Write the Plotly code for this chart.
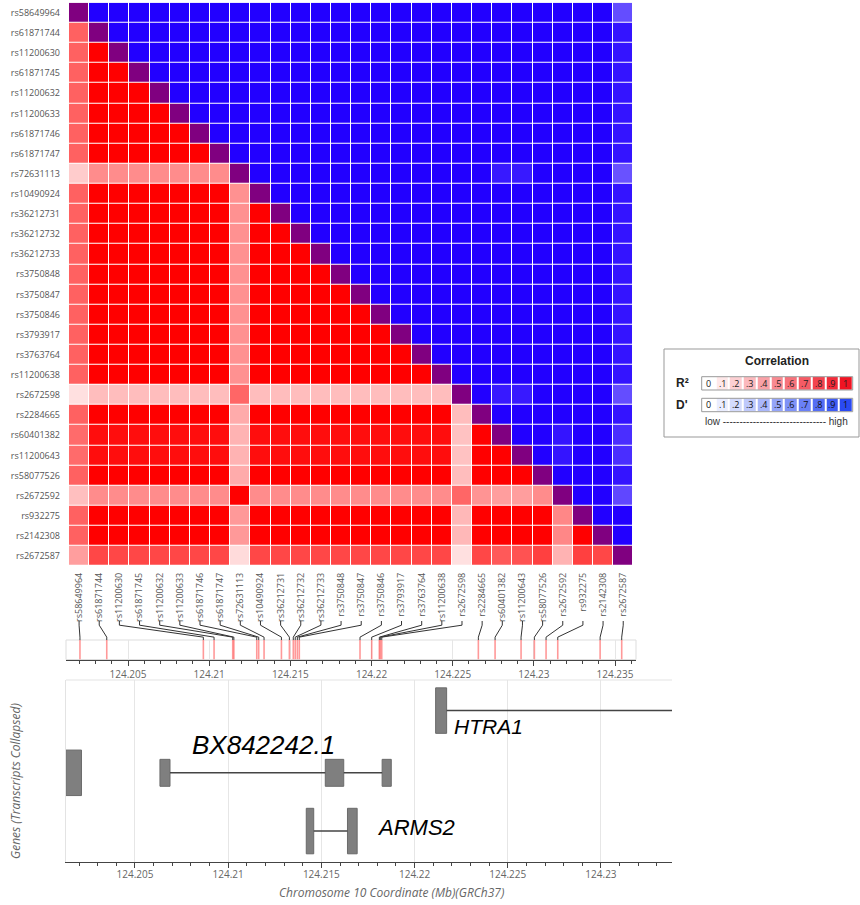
import numpy as np
import plotly.graph_objects as go

# ---------------------------------------------------------------- data
SNPS = [
    "rs58649964", "rs61871744", "rs11200630", "rs61871745", "rs11200632",
    "rs11200633", "rs61871746", "rs61871747", "rs72631113", "rs10490924",
    "rs36212731", "rs36212732", "rs36212733", "rs3750848", "rs3750847",
    "rs3750846", "rs3793917", "rs3763764", "rs11200638", "rs2672598",
    "rs2284665", "rs60401382", "rs11200643", "rs58077526", "rs2672592",
    "rs932275", "rs2142308", "rs2672587",
]

# chromosome 10 position of each SNP (Mb, GRCh37)
POS_MB = [
    124.20204, 124.20369, 124.20964, 124.21030, 124.21145,
    124.21152, 124.21293, 124.21305, 124.21338, 124.21445,
    124.21494, 124.21518, 124.21530, 124.21543, 124.21555,
    124.21929, 124.22001, 124.22048, 124.22054, 124.22063,
    124.22658, 124.22761, 124.22921, 124.23003, 124.23075,
    124.23147, 124.23408, 124.23541,
]

# R2, lower triangle: row i holds the values against SNPs 0..i-1
R2_LOWER = [
    [],
    [.62],
    [.62, 1],
    [.62, 1, 1],
    [.62, 1, 1, 1],
    [.62, 1, 1, 1, 1],
    [.62, 1, 1, 1, 1, 1],
    [.62, 1, 1, 1, 1, 1, 1],
    [.20, .45, .45, .45, .45, .45, .45, .45],
    [.62, 1, 1, 1, 1, 1, 1, 1, .43],
    [.62, 1, 1, 1, 1, 1, 1, 1, .43, 1],
    [.62, 1, 1, 1, 1, 1, 1, 1, .43, 1, 1],
    [.62, 1, 1, 1, 1, 1, 1, 1, .43, 1, 1, 1],
    [.62, 1, 1, 1, 1, 1, 1, 1, .43, 1, 1, 1, 1],
    [.62, 1, 1, 1, 1, 1, 1, 1, .43, 1, 1, 1, 1, 1],
    [.62, 1, 1, 1, 1, 1, 1, 1, .43, 1, 1, 1, 1, 1, 1],
    [.62, 1, 1, 1, 1, 1, 1, 1, .43, 1, 1, 1, 1, 1, 1, 1],
    [.62, 1, 1, 1, 1, 1, 1, 1, .43, 1, 1, 1, 1, 1, 1, 1, 1],
    [.62, 1, 1, 1, 1, 1, 1, 1, .43, 1, 1, 1, 1, 1, 1, 1, 1, 1],
    [.12, .26, .26, .26, .26, .26, .26, .26, .60, .26, .26, .26, .26, .26,
     .26, .26, .26, .26, .26],
    [.62, 1, 1, 1, 1, 1, 1, 1, .33, 1, 1, 1, 1, 1, 1, 1, 1, 1, 1, .26],
    [.58, .95, .95, .95, .95, .95, .95, .95, .30, .95, .95, .95, .95, .95,
     .95, .95, .95, .95, .95, .24, 1],
    [.58, .95, .95, .95, .95, .95, .95, .95, .30, .95, .95, .95, .95, .95,
     .95, .95, .95, .95, .95, .24, 1, 1],
    [.62, 1, 1, 1, 1, 1, 1, 1, .33, 1, 1, 1, 1, 1, 1, 1, 1, 1, 1, .26,
     1, 1, 1],
    [.25, .45, .45, .45, .45, .45, .45, .45, 1, .45, .45, .45, .45, .45,
     .45, .45, .45, .45, .45, .60, .42, .38, .38, .45],
    [.62, 1, 1, 1, 1, 1, 1, 1, .40, 1, 1, 1, 1, 1, 1, 1, 1, 1, 1, .28,
     1, 1, 1, 1, .47],
    [.62, 1, 1, 1, 1, 1, 1, 1, .40, 1, 1, 1, 1, 1, 1, 1, 1, 1, 1, .28,
     1, 1, 1, 1, .47, 1],
    [.38, .72, .72, .72, .72, .72, .72, .72, .14, .72, .72, .72, .72, .72,
     .72, .72, .72, .72, .72, .12, .72, .65, .68, .75, .30, .75, .72],
]

# D', upper triangle: row i holds the values against SNPs i+1..27
DPRIME_UPPER = [
    [1, 1, 1, 1, 1, 1, 1, 1, 1, 1, 1, 1, 1, 1, 1, 1, 1, 1, 1, 1, 1, 1, 1, 1, 1, 1, .70],
    [1, 1, 1, 1, 1, 1, 1, 1, 1, 1, 1, 1, 1, 1, 1, 1, 1, 1, 1, 1, 1, 1, 1, 1, 1, .92],
    [1, 1, 1, 1, 1, 1, 1, 1, 1, 1, 1, 1, 1, 1, 1, 1, 1, 1, 1, 1, 1, 1, 1, 1, .92],
    [1, 1, 1, 1, 1, 1, 1, 1, 1, 1, 1, 1, 1, 1, 1, 1, 1, 1, 1, 1, 1, 1, 1, .92],
    [1, 1, 1, 1, 1, 1, 1, 1, 1, 1, 1, 1, 1, 1, 1, 1, 1, 1, 1, 1, 1, 1, .92],
    [1, 1, 1, 1, 1, 1, 1, 1, 1, 1, 1, 1, 1, 1, 1, 1, 1, 1, 1, 1, 1, .92],
    [1, 1, 1, 1, 1, 1, 1, 1, 1, 1, 1, 1, 1, 1, 1, 1, 1, 1, 1, 1, .92],
    [1, 1, 1, 1, 1, 1, 1, 1, 1, 1, 1, 1, 1, 1, 1, 1, 1, 1, 1, .92],
    [1, 1, 1, 1, 1, 1, 1, 1, 1, 1, 1, 1, .90, .90, 1, 1, 1, 1, .68],
    [1, 1, 1, 1, 1, 1, 1, 1, 1, 1, 1, 1, 1, 1, 1, 1, 1, .92],
    [1, 1, 1, 1, 1, 1, 1, 1, 1, 1, 1, 1, 1, 1, 1, 1, .92],
    [1, 1, 1, 1, 1, 1, 1, 1, 1, 1, 1, 1, 1, 1, 1, .92],
    [1, 1, 1, 1, 1, 1, 1, 1, 1, 1, 1, 1, 1, 1, .92],
    [1, 1, 1, 1, 1, 1, 1, 1, 1, 1, 1, 1, 1, .92],
    [1, 1, 1, 1, 1, 1, 1, 1, 1, 1, 1, 1, .92],
    [1, 1, 1, 1, 1, 1, 1, 1, 1, 1, 1, .92],
    [1, 1, 1, 1, 1, 1, 1, 1, 1, 1, .92],
    [1, 1, 1, 1, 1, 1, 1, 1, 1, .92],
    [1, 1, 1, 1, 1, 1, 1, 1, .92],
    [1, .90, .90, 1, 1, 1, 1, .70],
    [1, 1, 1, 1, 1, 1, .92],
    [1, 1, .92, 1, 1, .82],
    [1, .92, 1, 1, .82],
    [1, 1, 1, .92],
    [1, 1, .72],
    [1, 1],
    [1],
    [],
]

AXIS_TICKS = [124.205, 124.21, 124.215, 124.22, 124.225, 124.23, 124.235]
AXIS_TICK_TEXT = ["124.205", "124.21", "124.215", "124.22", "124.225", "124.23", "124.235"]

# gene models (Mb): exons and transcript end
GENE_NAMES = ["", "BX842242.1", "ARMS2", "HTRA1"]
GENE_EXONS = [
    [(124.20129, 124.20213)],
    [(124.20634, 124.20688), (124.21521, 124.21620), (124.21826, 124.21875)],
    [(124.21419, 124.21459), (124.21640, 124.21692)],
    [(124.22113, 124.22172)],
]
GENE_TX_END = [124.20213, 124.21875, 124.21692, 124.27442]
GENE_CODING = [True, False, True, True]

LEGEND_STEPS = [0, .1, .2, .3, .4, .5, .6, .7, .8, .9, 1]
LEGEND_TEXT = ["0", ".1", ".2", ".3", ".4", ".5", ".6", ".7", ".8", ".9", "1"]

# ---------------------------------------------------------------- layout constants
W, H = 860, 905


def fx(px):
    return px / W


def fy(py):
    return 1 - py / H


HEAT_X = (69, 633.3)
HEAT_Y = (2.7, 566)
TRACK_X = (66, 636)
TRACK_Y = (640, 659.5)
TRACK_RANGE = (124.20118, 124.23629)
GENE_X = (66, 672)
GENE_Y = (680, 862)
GENE_RANGE = (124.2013, 124.23381)
GENE_LANE = [0.49, 0.49, 0.17, 0.832]
EXON_TALL, EXON_SHORT = 0.25, 0.148

n = len(SNPS)
r2 = np.full((n, n), np.nan)
dp = np.full((n, n), np.nan)
diag = np.full((n, n), np.nan)
for i, row in enumerate(R2_LOWER):
    assert len(row) == i
    for j, v in enumerate(row):
        r2[i, j] = v
for i, row in enumerate(DPRIME_UPPER):
    assert len(row) == n - 1 - i
    for k, v in enumerate(row):
        dp[i, i + 1 + k] = v
for i in range(n):
    diag[i, i] = 1

fig = go.Figure()
idx = list(range(n))

common = dict(x=idx, y=idx, zmin=0, zmax=1, showscale=False, xgap=1, ygap=1,
              hoverongaps=False, xaxis="x", yaxis="y")
fig.add_trace(go.Heatmap(z=r2, colorscale=[[0, "#ffffff"], [1, "#ff0000"]], **common))
fig.add_trace(go.Heatmap(z=dp, colorscale=[[0, "#ffffff"], [1, "#2200ff"]], **common))
fig.add_trace(go.Heatmap(z=diag, colorscale=[[0, "#800080"], [1, "#800080"]], **common))

# SNP position marks in the coordinate track
px_, py_ = [], []
for p in POS_MB:
    px_ += [p, p, None]
    py_ += [0, 1, None]
fig.add_trace(go.Scatter(x=px_, y=py_, mode="lines", xaxis="x2", yaxis="y2",
                         line=dict(color="rgba(255,70,70,0.55)", width=1.6),
                         hoverinfo="skip"))

# connectors from each heatmap column to its genomic position
cell = (HEAT_X[1] - HEAT_X[0]) / n
span = TRACK_RANGE[1] - TRACK_RANGE[0]
cx, cy = [], []
for k, p in enumerate(POS_MB):
    col_px = HEAT_X[0] + (k + 0.5) * cell
    col_mb = TRACK_RANGE[0] + (col_px - TRACK_X[0]) / (TRACK_X[1] - TRACK_X[0]) * span
    cx += [col_mb, col_mb, p, p, None]
    cy += [1, 0.78, 0.15, 0, None]
fig.add_trace(go.Scatter(x=cx, y=cy, mode="lines", xaxis="x5", yaxis="y6",
                         line=dict(color="#333333", width=1), hoverinfo="skip"))

# gene track: introns then exons
for g, exons in enumerate(GENE_EXONS):
    lane = GENE_LANE[g]
    lx, ly = [], []
    for a, b in zip(exons[:-1], exons[1:]):
        lx += [a[1], b[0], None]
        ly += [lane, lane, None]
    if GENE_TX_END[g] > exons[-1][1]:
        lx += [exons[-1][1], GENE_TX_END[g], None]
        ly += [lane, lane, None]
    if lx:
        fig.add_trace(go.Scatter(x=lx, y=ly, mode="lines", xaxis="x3", yaxis="y3",
                                 line=dict(color="#444444", width=1.5), hoverinfo="skip"))
    fig.add_trace(go.Bar(
        orientation="h", y=[lane] * len(exons),
        x=[b - a for a, b in exons], base=[a for a, b in exons],
        width=EXON_TALL if GENE_CODING[g] else EXON_SHORT,
        marker=dict(color="#7f7f7f", line=dict(color="#6a6a6a", width=1)),
        xaxis="x3", yaxis="y3", hoverinfo="skip"))

# colour legend strips
fig.add_trace(go.Heatmap(z=[LEGEND_STEPS], x=list(range(11)), y=[0], text=[LEGEND_TEXT],
                         texttemplate="%{text}", textfont=dict(size=9, color="#222"),
                         colorscale=[[0, "#ffffff"], [1, "#f01423"]], zmin=0, zmax=1,
                         showscale=False, xgap=2, xaxis="x4", yaxis="y4", hoverinfo="skip"))
fig.add_trace(go.Heatmap(z=[LEGEND_STEPS], x=list(range(11)), y=[0], text=[LEGEND_TEXT],
                         texttemplate="%{text}", textfont=dict(size=9, color="#111"),
                         colorscale=[[0, "#ffffff"], [1, "#2a4af2"]], zmin=0, zmax=1,
                         showscale=False, xgap=2, xaxis="x4", yaxis="y5", hoverinfo="skip"))

hidden = dict(visible=False, showgrid=False, zeroline=False, fixedrange=True)
tickfont_small = dict(size=9, color="#555")
coord_axis = dict(
    tickmode="array", tickvals=AXIS_TICKS, ticktext=AXIS_TICK_TEXT,
    ticks="outside", tickcolor="#444", tickwidth=1, showline=True, linecolor="#444",
    linewidth=1, showgrid=True, gridcolor="#e6e6e6", gridwidth=1, zeroline=False,
    tickfont=dict(size=10, color="#666"), automargin=False, fixedrange=True,
)

fig.update_layout(
    width=W, height=H, margin=dict(l=0, r=0, t=0, b=0), template="none",
    paper_bgcolor="white", plot_bgcolor="white", barmode="overlay", showlegend=False,
    font=dict(family="Open Sans, sans-serif", color="#555"),
    xaxis=dict(domain=[fx(HEAT_X[0]), fx(HEAT_X[1])], range=[-0.5, n - 0.5], anchor="y",
               tickmode="array", tickvals=idx, ticktext=SNPS, tickangle=-90, ticks="",
               tickfont=tickfont_small, showgrid=False, zeroline=False, showline=False,
               automargin=False, ticklabelstandoff=4, fixedrange=True),
    yaxis=dict(domain=[fy(HEAT_Y[1]), fy(HEAT_Y[0])], range=[n - 0.5, -0.5], anchor="x",
               tickmode="array", tickvals=idx, ticktext=SNPS, ticks="",
               tickfont=tickfont_small, showgrid=False, zeroline=False, showline=False,
               automargin=False, ticklabelstandoff=8, fixedrange=True),
    xaxis2=dict(domain=[fx(TRACK_X[0]), fx(TRACK_X[1])], range=list(TRACK_RANGE),
                anchor="y2", ticklen=5,
                minor=dict(tickmode="linear", tick0=124.2, dtick=0.001, ticks="outside",
                           ticklen=3, tickcolor="#444", showgrid=False),
                **coord_axis),
    yaxis2=dict(domain=[fy(TRACK_Y[1]), fy(TRACK_Y[0])], range=[0, 1], anchor="x2",
                showticklabels=False, ticks="", showgrid=False, zeroline=False,
                fixedrange=True),
    xaxis3=dict(domain=[fx(GENE_X[0]), fx(GENE_X[1])], range=list(GENE_RANGE),
                anchor="y3", ticklen=5, ticklabelstandoff=-2,
                minor=dict(tickmode="linear", tick0=124.2, dtick=0.001, ticks="outside",
                           ticklen=3, tickcolor="#444", showgrid=False),
                **coord_axis),
    yaxis3=dict(domain=[fy(GENE_Y[1]), fy(GENE_Y[0])], range=[0, 1], anchor="x3",
                showticklabels=False, ticks="", showgrid=False, zeroline=False,
                showline=True, linecolor="#e3e3e3", fixedrange=True),
    xaxis4=dict(domain=[fx(701.7), fx(852.7)], range=[-0.5, 10.5], anchor="y4", **hidden),
    yaxis4=dict(domain=[fy(390), fy(376.7)], range=[-0.5, 0.5], anchor="x4", **hidden),
    yaxis5=dict(domain=[fy(411.7), fy(398.3)], range=[-0.5, 0.5], anchor="x4", **hidden),
    xaxis5=dict(domain=[fx(TRACK_X[0]), fx(TRACK_X[1])], range=list(TRACK_RANGE),
                anchor="y6", **hidden),
    yaxis6=dict(domain=[fy(640), fy(621)], range=[0, 1], anchor="x5", **hidden),
)

shapes = [
    dict(type="rect", xref="x2 domain", yref="y2 domain", x0=0, x1=1, y0=0, y1=1,
         line=dict(color="#dddddd", width=1), layer="below"),
    dict(type="line", xref="x3 domain", yref="y3 domain", x0=0, x1=1, y0=1, y1=1,
         line=dict(color="#e3e3e3", width=1)),
    dict(type="rect", xref="x4 domain", yref="y4 domain", x0=0, x1=1, y0=0, y1=1,
         line=dict(color="#999", width=1)),
    dict(type="rect", xref="x4 domain", yref="y5 domain", x0=0, x1=1, y0=0, y1=1,
         line=dict(color="#999", width=1)),
    dict(type="rect", xref="paper", yref="paper", x0=fx(664), x1=fx(859),
         y0=fy(437), y1=fy(349), line=dict(color="#999", width=1)),
]

gene_font = "Arial, Liberation Sans, sans-serif"
centred = dict(xanchor="center", yanchor="middle", showarrow=False)
annotations = [
    dict(text="<i>BX842242.1</i>", x=124.20795, y=0.643, xref="x3", yref="y3",
         xanchor="left", yanchor="middle", showarrow=False,
         font=dict(family=gene_font, size=26, color="#000")),
    dict(text="<i>ARMS2</i>", x=124.21788, y=0.192, xref="x3", yref="y3",
         xanchor="left", yanchor="middle", showarrow=False,
         font=dict(family=gene_font, size=22, color="#000")),
    dict(text="<i>HTRA1</i>", x=124.2220, y=0.742, xref="x3", yref="y3",
         xanchor="left", yanchor="middle", showarrow=False,
         font=dict(family=gene_font, size=21, color="#000")),
    dict(text="<i>Chromosome 10 Coordinate (Mb)(GRCh37)</i>", x=fx(391.5), y=fy(892),
         xref="paper", yref="paper", font=dict(size=12, color="#666"), **centred),
    dict(text="<i>Genes (Transcripts Collapsed)</i>", x=fx(15), y=fy(781),
         xref="paper", yref="paper", textangle=-90, font=dict(size=12, color="#666"),
         **centred),
    dict(text="<b>Correlation</b>", x=fx(777), y=fy(361), xref="paper", yref="paper",
         font=dict(family=gene_font, size=12, color="#222"), **centred),
    dict(text="<b>R²</b>", x=fx(682), y=fy(383), xref="paper", yref="paper",
         font=dict(family=gene_font, size=12, color="#222"), **centred),
    dict(text="<b>D'</b>", x=fx(682), y=fy(405), xref="paper", yref="paper",
         font=dict(family=gene_font, size=12, color="#222"), **centred),
    dict(text="low ------------------------------- high", x=fx(703), y=fy(422),
         xref="paper", yref="paper", xanchor="left", yanchor="middle", showarrow=False,
         font=dict(family=gene_font, size=10, color="#333")),
]

fig.update_layout(shapes=shapes, annotations=annotations)
fig.write_html("out.html")
